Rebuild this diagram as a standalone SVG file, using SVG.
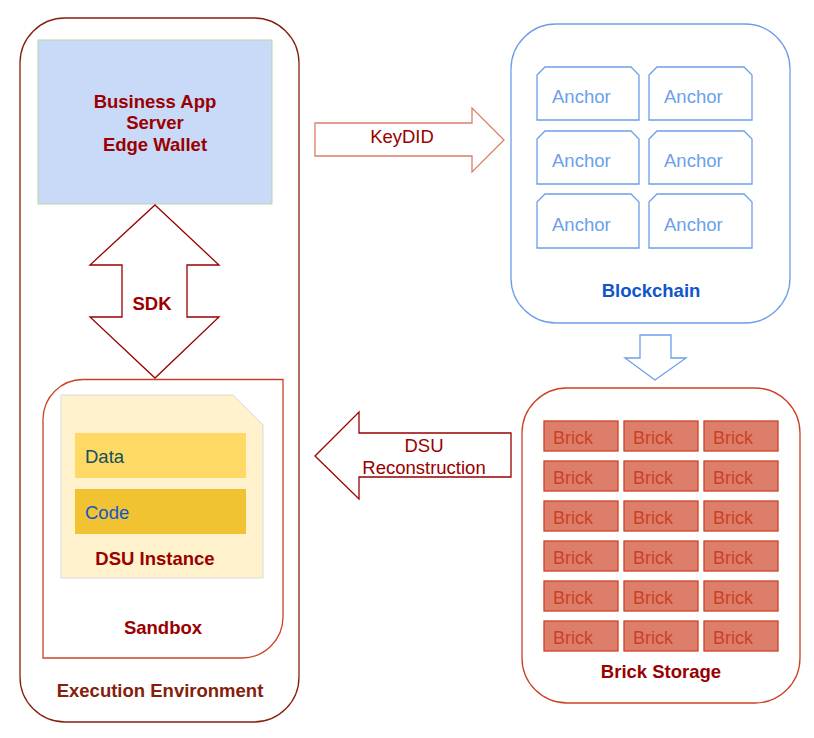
<svg xmlns="http://www.w3.org/2000/svg" width="814" height="738" viewBox="0 0 814 738">
<style>
text{font-family:"Liberation Sans",Arial,sans-serif;font-size:18.5px}
.b{font-weight:bold}
.c{text-anchor:middle}
.dr{fill:#990000}
.anchor path{fill:#fff;stroke:#6d9eeb;stroke-width:1.3}
.anchor text{fill:#6d9eeb}
.brick rect{fill:#dd7e6b;stroke:#cc4125;stroke-width:1.3}
.brick text{fill:#cc4125;font-size:18px}
</style>
<rect width="814" height="738" fill="#fff"/>
<g id="exec-env">
<rect x="20" y="18" width="279" height="704" rx="45" ry="45" fill="#fff" stroke="#85200c" stroke-width="1.3"/>
<text x="160" y="697" class="b c" fill="#85200c">Execution Environment</text>
</g>
<g id="business-app">
<rect x="38" y="40" width="234" height="164" fill="#c9daf8" stroke="#b6d7a8" stroke-width="1"/>
<text class="b c dr" x="155" y="108">Business App</text>
<text class="b c dr" x="155" y="129">Server</text>
<text class="b c dr" x="155" y="151">Edge Wallet</text>
</g>
<g id="sandbox">
<path d="M43 419 A40 40 0 0 1 83 379.5 L283 379.5 L283 617 A41 41 0 0 1 242 658 L43 658 Z" fill="#fff" stroke="#cc4125" stroke-width="1.3"/>
<text class="b c dr" x="163" y="634">Sandbox</text>
</g>
<g id="dsu-instance">
<path d="M61 395 L233 395 L263 425 L263 578 L61 578 Z" fill="#fff2cc" stroke="#d9d9d9" stroke-width="1"/>
<rect x="75" y="433" width="171" height="45" fill="#ffd966"/>
<text x="85" y="463" fill="#134f5c">Data</text>
<rect x="75" y="489" width="171" height="45" fill="#f1c232"/>
<text x="85" y="519" fill="#1155cc">Code</text>
<text class="b c dr" x="155" y="565">DSU Instance</text>
</g>
<g id="blockchain">
<rect x="511" y="24" width="279" height="299" rx="45" ry="45" fill="#fff" stroke="#6d9eeb" stroke-width="1.3"/>
<text class="b c" x="651" y="297" fill="#1155cc">Blockchain</text>
<g class="anchor">
<path d="M537 75 L545 67 L631 67 L639 75 L639 120 L537 120 Z"/><text x="552" y="103">Anchor</text>
<path d="M649 75 L657 67 L744 67 L752 75 L752 120 L649 120 Z"/><text x="664" y="103">Anchor</text>
<path d="M537 139 L545 131 L631 131 L639 139 L639 184 L537 184 Z"/><text x="552" y="167">Anchor</text>
<path d="M649 139 L657 131 L744 131 L752 139 L752 184 L649 184 Z"/><text x="664" y="167">Anchor</text>
<path d="M537 202 L545 194 L631 194 L639 202 L639 248 L537 248 Z"/><text x="552" y="231">Anchor</text>
<path d="M649 202 L657 194 L744 194 L752 202 L752 248 L649 248 Z"/><text x="664" y="231">Anchor</text>
</g>
</g>
<g id="brick-storage">
<rect x="522" y="388" width="278" height="315" rx="45" ry="45" fill="#fff" stroke="#cc4125" stroke-width="1.3"/>
<text class="b c dr" x="661" y="678">Brick Storage</text>
<g class="brick">
<rect x="544" y="421" width="74" height="30"/><text x="553" y="444">Brick</text>
<rect x="624" y="421" width="74" height="30"/><text x="633" y="444">Brick</text>
<rect x="704" y="421" width="74" height="30"/><text x="713" y="444">Brick</text>
<rect x="544" y="461" width="74" height="30"/><text x="553" y="484">Brick</text>
<rect x="624" y="461" width="74" height="30"/><text x="633" y="484">Brick</text>
<rect x="704" y="461" width="74" height="30"/><text x="713" y="484">Brick</text>
<rect x="544" y="501" width="74" height="30"/><text x="553" y="524">Brick</text>
<rect x="624" y="501" width="74" height="30"/><text x="633" y="524">Brick</text>
<rect x="704" y="501" width="74" height="30"/><text x="713" y="524">Brick</text>
<rect x="544" y="541" width="74" height="30"/><text x="553" y="564">Brick</text>
<rect x="624" y="541" width="74" height="30"/><text x="633" y="564">Brick</text>
<rect x="704" y="541" width="74" height="30"/><text x="713" y="564">Brick</text>
<rect x="544" y="581" width="74" height="30"/><text x="553" y="604">Brick</text>
<rect x="624" y="581" width="74" height="30"/><text x="633" y="604">Brick</text>
<rect x="704" y="581" width="74" height="30"/><text x="713" y="604">Brick</text>
<rect x="544" y="621" width="74" height="30"/><text x="553" y="644">Brick</text>
<rect x="624" y="621" width="74" height="30"/><text x="633" y="644">Brick</text>
<rect x="704" y="621" width="74" height="30"/><text x="713" y="644">Brick</text>
</g>
</g>
<g id="connectors">
<g id="sdk-arrow">
<path d="M155 205 L219 265 L187 265 L187 317 L219 317 L155 378 L90 317 L122 317 L122 265 L90 265 Z" fill="#fff" stroke="#990000" stroke-width="1.3"/>
<text class="b c dr" x="152" y="310">SDK</text>
</g>
<g id="keydid-arrow">
<path d="M315 123 L472 123 L472 108 L504 140 L472 172 L472 156 L315 156 Z" fill="#fff" stroke="#dd7e6b" stroke-width="1.3"/>
<text class="c dr" x="402" y="143">KeyDID</text>
</g>
<g id="down-arrow">
<path d="M640 335 L671 335 L671 358 L686 358 L655 380 L625 358 L640 358 Z" fill="#fff" stroke="#6d9eeb" stroke-width="1.3"/>
</g>
<g id="dsu-reconstruction-arrow">
<path d="M315 456 L359 412 L359 433 L511 433 L511 477 L359 477 L359 499 Z" fill="#fff" stroke="#990000" stroke-width="1.3"/>
<text class="c dr" x="424" y="452">DSU</text>
<text class="c dr" x="424" y="474">Reconstruction</text>
</g>
</g>
</svg>
